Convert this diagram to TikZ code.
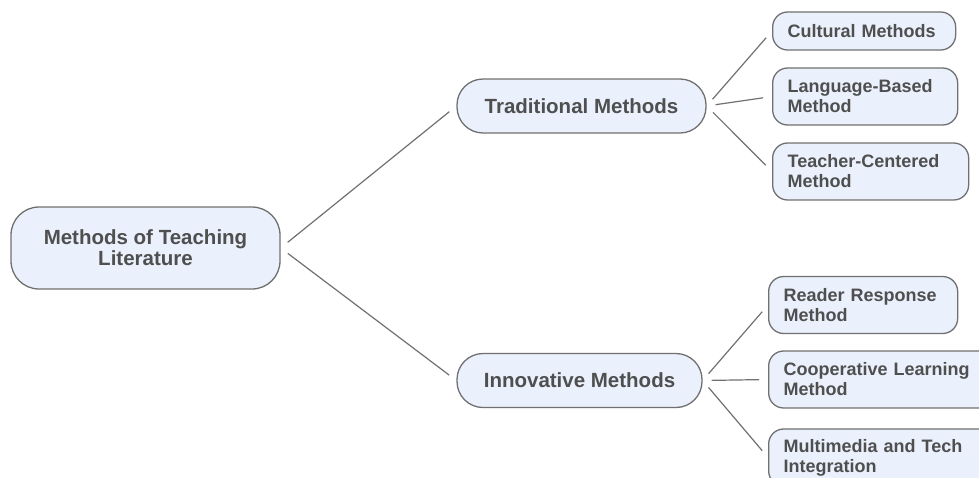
\documentclass[tikz,border=0pt]{standalone}
\usepackage{fontspec}
\setmainfont{Liberation Sans}
\definecolor{boxfill}{HTML}{EAF0FC}
\definecolor{boxline}{HTML}{707070}
\definecolor{txtgray}{HTML}{4F4F4F}
\definecolor{wire}{HTML}{707070}
\begin{document}
\begin{tikzpicture}[x=1pt,y=-1pt]
% Styles
\tikzset{
  rootbox/.style={rectangle, rounded corners=28pt, draw=boxline, line width=1.3pt, fill=boxfill, text=txtgray, align=center, font=\bfseries\fontsize{20.5}{21}\selectfont, minimum width=269pt, minimum height=82pt},
  branch/.style={rectangle, rounded corners=26pt, draw=boxline, line width=1.3pt, fill=boxfill, text=txtgray, align=center, font=\bfseries\fontsize{20.5}{21}\selectfont, minimum height=54pt},
  leaf/.style={rectangle, rounded corners=15pt, draw=boxline, line width=1.3pt, fill=boxfill, text=txtgray, align=left, anchor=west, inner xsep=15pt, font=\bfseries\fontsize{18}{20}\selectfont, minimum height=57pt},
  wireline/.style={draw=wire, line width=1.2pt, shorten >=9pt, shorten <=9pt}
}
\useasboundingbox (0,0) rectangle (979,477);

% Root
\node[rootbox] (root) at (145.5,248) {Methods of Teaching\\Literature};

% Branches
\node[branch, minimum width=249pt] (trad) at (581.5,106) {Traditional Methods};
\node[branch, minimum width=245pt] (innov) at (579.5,380.5) {Innovative Methods};

% Leaves: traditional
\node[leaf, minimum height=38pt, text width=153pt] (cult) at (772,31) {Cultural Methods};
\node[leaf, text width=155pt] (lang) at (772,96.5) {Language-Based\\Method};
\node[leaf, text width=166pt] (teach) at (772,171.5) {Teacher-Centered\\Method};

% Leaves: innovative
\node[leaf, text width=159pt] (reader) at (768,305) {Reader Response\\Method};
\node[leaf, text width=200pt] (coop) at (768,379.5) {Cooperative Learning\\Method};
\node[leaf, text width=200pt] (media) at (768,457.5) {Multimedia and Tech\\Integration};

% Connectors
\draw[wireline] (root.east) -- (trad.west);
\draw[wireline] (root.east) -- (innov.west);
\foreach \t in {cult,lang,teach}
  \draw[wireline] (trad.east) -- (\t.west);
\foreach \t in {reader,coop,media}
  \draw[wireline] (innov.east) -- (\t.west);
\end{tikzpicture}
\end{document}
